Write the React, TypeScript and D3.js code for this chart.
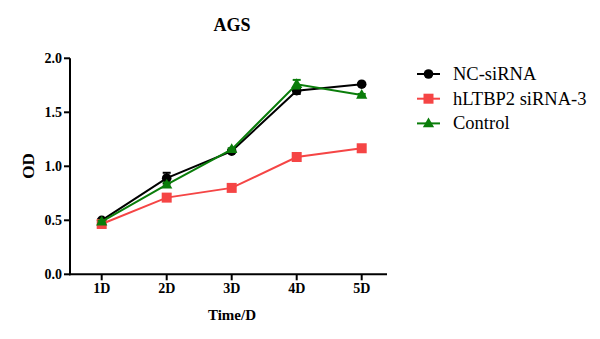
import React from "react";
import * as d3 from "d3";

const days = [1, 2, 3, 4, 5];
const dayLabels = ["1D", "2D", "3D", "4D", "5D"];
const yTicks = [0, 0.5, 1.0, 1.5, 2.0];

const ncValues = [0.5, 0.89, 1.14, 1.7, 1.76];
const ncErr = [0.01, 0.05, 0.01, 0.03, 0.01];
const redValues = [0.466, 0.71, 0.8, 1.086, 1.167];
const redErr = [0.01, 0.01, 0.01, 0.01, 0.01];
const greenValues = [0.487, 0.83, 1.157, 1.76, 1.66];
const greenErr = [0.01, 0.02, 0.01, 0.04, 0.01];

const seriesNames = ["NC-siRNA", "hLTBP2 siRNA-3", "Control"];
const seriesColors = ["#000000", "#f54545", "#0a7d0a"];
const seriesShapes = ["circle", "square", "triangle"];

const FONT = "'Liberation Serif', 'Times New Roman', Times, serif";

function Marker({ shape, x, y, color }: { shape: string; x: number; y: number; color: string }) {
  if (shape === "circle") return <circle cx={x} cy={y} r={4.8} fill={color} />;
  if (shape === "square") return <rect x={x - 5} y={y - 5} width={10} height={10} fill={color} />;
  const sym = d3.symbol().type(d3.symbolTriangle).size(55)();
  return <path d={sym || ""} transform={`translate(${x},${y + 0.5})`} fill={color} />;
}

export default function App() {
  const x = d3.scaleLinear().domain([1, 5]).range([101.7, 361.7]);
  const y = d3.scaleLinear().domain([0, 2]).range([274.3, 58.3]);
  const axisLeft = 70;
  const axisRight = 387;

  const series = [
    { values: ncValues, err: ncErr },
    { values: redValues, err: redErr },
    { values: greenValues, err: greenErr },
  ];

  const line = d3
    .line<number>()
    .x((_, i) => x(days[i]))
    .y((d) => y(d));

  return (
    <svg
      width={600}
      height={339}
      style={{ position: "absolute", left: 0, top: 0, background: "#fff", fontFamily: FONT }}
    >
      <rect width={600} height={339} fill="#fff" />
      <text x={232} y={31} textAnchor="middle" style={{ fontFamily: FONT }} fontWeight="bold" fontSize={18}>
        AGS
      </text>

      {/* Y axis */}
      <line x1={axisLeft} x2={axisLeft} y1={y(2)} y2={y(0) + 1} stroke="#000" strokeWidth={2} />
      {yTicks.map((t) => (
        <g key={t}>
          <line x1={axisLeft - 6} x2={axisLeft} y1={y(t)} y2={y(t)} stroke="#000" strokeWidth={2} />
          <text
            x={axisLeft - 8}
            y={y(t) + 5}
            textAnchor="end"
            style={{ fontFamily: FONT }}
            fontWeight="bold"
            fontSize={14}
          >
            {t.toFixed(1)}
          </text>
        </g>
      ))}
      <text
        transform={`translate(34,166) rotate(-90)`}
        textAnchor="middle"
        style={{ fontFamily: FONT }}
        fontWeight="bold"
        fontSize={17}
      >
        OD
      </text>

      {/* X axis */}
      <line x1={axisLeft - 1} x2={axisRight} y1={y(0)} y2={y(0)} stroke="#000" strokeWidth={2} />
      {days.map((d, i) => (
        <g key={d}>
          <line x1={x(d)} x2={x(d)} y1={y(0)} y2={y(0) + 6} stroke="#000" strokeWidth={2} />
          <text
            x={x(d)}
            y={y(0) + 19}
            textAnchor="middle"
            style={{ fontFamily: FONT }}
            fontWeight="bold"
            fontSize={14}
          >
            {dayLabels[i]}
          </text>
        </g>
      ))}
      <text x={232} y={320} textAnchor="middle" style={{ fontFamily: FONT }} fontWeight="bold" fontSize={15}>
        Time/D
      </text>

      {/* Series */}
      {series.map((s, si) => (
        <g key={si}>
          {s.values.map((v, i) => {
            const e = s.err[i];
            const cx = x(days[i]);
            return (
              <g key={i}>
                <line x1={cx} x2={cx} y1={y(v - e)} y2={y(v + e)} stroke={seriesColors[si]} strokeWidth={1.5} />
                <line x1={cx - 4} x2={cx + 4} y1={y(v + e)} y2={y(v + e)} stroke={seriesColors[si]} strokeWidth={2} />
                <line x1={cx - 4} x2={cx + 4} y1={y(v - e)} y2={y(v - e)} stroke={seriesColors[si]} strokeWidth={2} />
              </g>
            );
          })}
          <path d={line(s.values) || ""} fill="none" stroke={seriesColors[si]} strokeWidth={2} />
          {s.values.map((v, i) => (
            <Marker key={i} shape={seriesShapes[si]} x={x(days[i])} y={y(v)} color={seriesColors[si]} />
          ))}
        </g>
      ))}

      {/* Legend */}
      {seriesNames.map((name, i) => {
        const ly = 74 + i * 24.7;
        return (
          <g key={name}>
            <line x1={417} x2={440} y1={ly} y2={ly} stroke={seriesColors[i]} strokeWidth={2} />
            <Marker shape={seriesShapes[i]} x={428.5} y={ly} color={seriesColors[i]} />
            <text x={453} y={ly + 6} style={{ fontFamily: FONT }} fontSize={18.5}>
              {name}
            </text>
          </g>
        );
      })}
    </svg>
  );
}
